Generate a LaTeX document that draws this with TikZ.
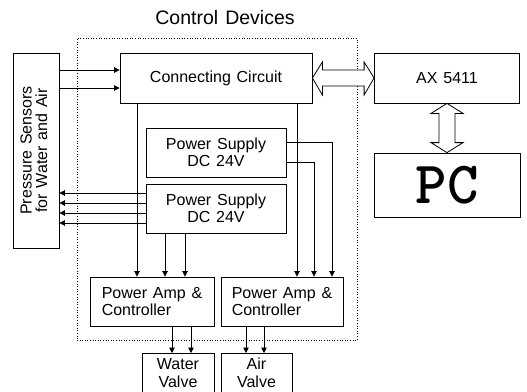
\documentclass[tikz,border=0pt]{standalone}
\usepackage{fontspec}
\setmainfont{Liberation Sans}[WordSpace=1.3]
\usetikzlibrary{arrows.meta,calc}
\begin{document}
\begin{tikzpicture}[x=1pt,y=-1pt,
  box/.style={draw,line width=0.8pt,inner sep=0pt,font=\fontsize{16}{17.5}\selectfont,align=center},
  arr/.style={line width=0.7pt,-{Triangle[length=5.5pt,width=5.5pt]}},
  dbl/.style={draw,line width=0.8pt,fill=white,line join=miter}]
\useasboundingbox (0,0) rectangle (527,391);
\node[font=\fontsize{19.5}{22}\selectfont] (title) at (225,18) {Control Devices};
\node[draw,dotted,line width=0.6pt,minimum width=280pt,minimum height=302pt,inner sep=0pt] (frame) at (217,189) {};
\node[box,minimum width=46pt,minimum height=195pt] (ps) at (36,150.5)
  {\rotatebox{90}{\begin{tabular}{@{}c@{}}Pressure Sensors\\[-2pt]for Water and Air\end{tabular}}};
\node[box,minimum width=192pt,minimum height=50pt] (cc) at (216,78) {Connecting Circuit};
\node[box,minimum width=145pt,minimum height=50pt] (ax) at (447,78) {AX 5411};
\node[box,minimum width=146pt,minimum height=64pt] (pc) at (447,185) {\ttfamily\bfseries\fontsize{60}{60}\selectfont PC};
\node[box,minimum width=140pt,minimum height=49pt] (psa) at (216,152.5) {Power Supply\\DC 24V};
\node[box,minimum width=140pt,minimum height=49pt] (psb) at (216,208.5) {Power Supply\\DC 24V};
\node[box,minimum width=124pt,minimum height=49pt,align=left] (pa) at (152,301.5) {Power Amp \&\\Controller};
\node[box,minimum width=122pt,minimum height=49pt,align=left] (pb) at (282,301.5) {Power Amp \&\\Controller};
\node[box,minimum width=72pt,minimum height=39pt,anchor=north] (wv) at (178,353) {Water\\Valve};
\node[box,minimum width=71pt,minimum height=39pt,anchor=north] (av) at (256.5,353) {Air\\Valve};
% sensors to connecting circuit
\draw[arr] (ps.east |- 0,70) -- (cc.west |- 0,70);
\draw[arr] (ps.east |- 0,88) -- (cc.west |- 0,88);
% power supply B to sensors
\foreach \y in {193,203,213,223} \draw[arr] (psb.west |- 0,\y) -- (ps.east |- 0,\y);
% connecting circuit to power amps
\draw[arr] (cc.south -| 137,0) -- (pa.north -| 137,0);
\draw[arr] (cc.south -| 297,0) -- (pb.north -| 297,0);
% power supply B to power amp A
\draw[arr] (psb.south -| 165,0) -- (pa.north -| 165,0);
\draw[arr] (psb.south -| 185,0) -- (pa.north -| 185,0);
% power supply A to power amp B
\draw[arr] (psa.east |- 0,142) -| (pb.north -| 332,0);
\draw[arr] (psa.east |- 0,162) -| (pb.north -| 314,0);
% power amps to valves
\draw[arr] (pa.south -| 172,0) -- (wv.north -| 172,0);
\draw[arr] (pa.south -| 191,0) -- (wv.north -| 191,0);
\draw[arr] (pb.south -| 246,0) -- (av.north -| 246,0);
\draw[arr] (pb.south -| 264,0) -- (av.north -| 264,0);
% double arrows
\draw[dbl] (cc.east) -- ++(10,-16) -- ++(0,8) -- ($(ax.west)+(-10,-8)$) -- ++(0,-8) -- (ax.west)
  -- ++(-10,17) -- ++(0,-9) -- ($(cc.east)+(10,8)$) -- ++(0,9) -- cycle;
\draw[dbl] (ax.south) -- ++(16,10) -- ++(-8,0) -- ($(pc.north)+(8,-10)$) -- ++(8,0) -- (pc.north)
  -- ++(-16,-10) -- ++(8,0) -- ($(ax.south)+(-8,10)$) -- ++(-8,0) -- cycle;
\end{tikzpicture}
\end{document}
